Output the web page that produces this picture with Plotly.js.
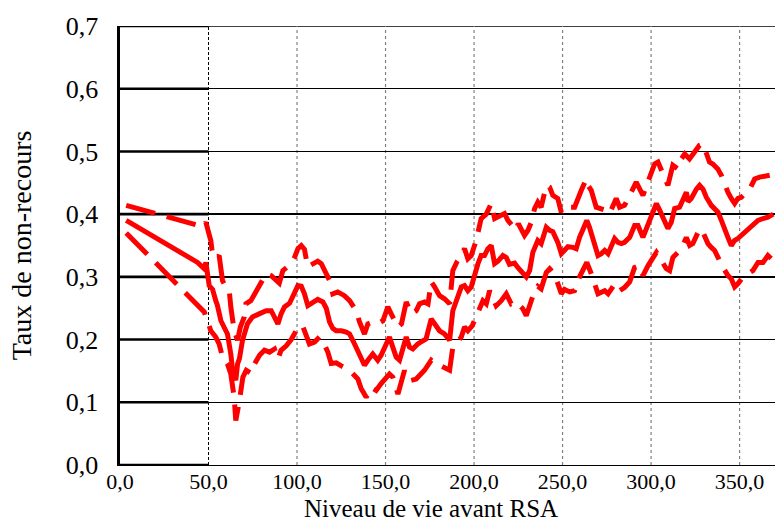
<!DOCTYPE html>
<html>
<head>
<meta charset="utf-8">
<script src="https://cdn.plot.ly/plotly-3.0.1.min.js"></script>
<style>html,body{margin:0;padding:0;background:#fff;}#chart{width:775px;height:522px;}</style>
</head>
<body>
<div id="chart"></div>
<script>
// Upper band (dashed)
const upperX = [3.5,47,48.5,51.3,52,54.1,56,57.9,59.8,61.7,62.6,64.5,66.4,68,70.2,71.1,73.9,76.7,79.6,82.6,85.4,87.3,90,92,94.8,96.7,98.6,100.5,102.4,104.2,106,109,111.7,113.7,115.5,118.4,120.2,123,126.8,129.7,133.4,135.3,138.1,140,142.8,145.6,148.5,151.3,153.2,155,157,159,161.7,164.5,167.3,169.2,172,174,175.8,177.7,180.5,183.3,186.2,188,190.5,192.8,194.6,196.5,198.4,201.2,202.2,204,206.9,209.7,211.6,214.4,217.2,219.1,222,223.8,225,228.5,230.4,232.3,234.2,236,237.9,240.8,242.7,244.5,247.3,249.3,251.1,254,256.8,260.6,263.4,264.3,266.2,269,271.9,274.7,276.6,280.3,282.2,285,288.8,291.6,295.4,297.3,302,303.9,306.7,309.5,312.3,315.2,317.1,319,321.7,324.6,327.4,329.3,331.2,333,334.9,337.7,339.7,341.5,343.4,345.3,347.2,349,351,355.7,358.5,361.3,365,367];
const upperY = [0.414,0.380,0.387,0.358,0.342,0.329,0.334,0.294,0.284,0.278,0.252,0.214,0.199,0.220,0.236,0.257,0.262,0.276,0.294,0.305,0.302,0.297,0.290,0.310,0.317,0.321,0.331,0.345,0.350,0.344,0.316,0.321,0.325,0.321,0.310,0.294,0.273,0.276,0.270,0.262,0.246,0.228,0.209,0.225,0.228,0.225,0.230,0.252,0.241,0.230,0.220,0.225,0.260,0.241,0.246,0.257,0.260,0.257,0.292,0.284,0.270,0.265,0.257,0.310,0.325,0.334,0.345,0.329,0.334,0.358,0.369,0.393,0.400,0.417,0.393,0.396,0.401,0.390,0.379,0.374,0.385,0.366,0.374,0.387,0.409,0.419,0.411,0.446,0.443,0.430,0.425,0.403,0.411,0.411,0.411,0.438,0.456,0.446,0.438,0.411,0.409,0.406,0.401,0.425,0.411,0.414,0.435,0.451,0.430,0.446,0.480,0.483,0.464,0.446,0.478,0.472,0.488,0.496,0.488,0.499,0.510,0.512,0.496,0.483,0.480,0.472,0.462,0.448,0.435,0.425,0.417,0.425,0.427,0.440,0.456,0.459,0.462,0.462];

// Central estimate (solid)
const centerX = [3.5,43.8,47.6,48.5,50.4,52.3,54.1,55,57,58.9,60.7,62.6,63.6,65.4,66.4,67.5,69.2,72,74.8,78.6,80.7,82.6,85.4,87.3,89.2,91,92.9,95.8,98.6,100.5,102.4,104.2,106.1,108.9,111.7,114.6,116.5,118.4,120.2,122.1,125,127.8,129.7,132.5,135.3,138.1,140,142.8,145.6,147.5,150.4,152.2,154.1,156,157.9,159.8,161.7,163.5,165.4,168.2,171,172.9,175.8,177.7,180.5,183.3,186.2,188,189.9,192.8,194.6,196.5,198.4,200.3,202.2,204,205.9,207.8,209.7,211.6,213.5,216.3,218.2,220,222.9,224.7,226.6,229.5,231.4,233.2,236,237.9,240.8,242.7,244.5,247.3,249.3,251.1,253,255.8,257.7,259.6,262.4,263.7,265.2,267.1,270,271.9,273.8,275.7,279.4,281.3,283.2,285,287.9,290.7,292.6,295.4,298.3,301.1,303,304.9,306.7,309.5,311.4,313.3,316.1,318,319.9,320.9,322.7,325.6,327.4,329.3,331.2,334,335.9,337.8,339.7,341.5,343.4,345.3,347.2,349,351.9,354.7,357.5,360.4,363.2,366,369];
const centerY = [0.390,0.323,0.313,0.323,0.286,0.280,0.262,0.255,0.230,0.220,0.209,0.177,0.151,0.135,0.161,0.170,0.199,0.225,0.236,0.241,0.244,0.246,0.246,0.236,0.225,0.241,0.252,0.258,0.274,0.286,0.285,0.273,0.254,0.260,0.264,0.260,0.250,0.228,0.218,0.214,0.214,0.212,0.209,0.193,0.177,0.159,0.167,0.177,0.167,0.175,0.193,0.204,0.188,0.172,0.167,0.188,0.204,0.188,0.185,0.193,0.199,0.201,0.233,0.225,0.214,0.209,0.199,0.246,0.262,0.284,0.286,0.278,0.284,0.305,0.321,0.334,0.334,0.345,0.350,0.321,0.325,0.334,0.331,0.320,0.322,0.315,0.310,0.300,0.310,0.339,0.358,0.353,0.379,0.374,0.372,0.355,0.337,0.342,0.348,0.347,0.345,0.363,0.379,0.390,0.379,0.363,0.334,0.337,0.342,0.337,0.361,0.355,0.353,0.355,0.363,0.382,0.382,0.363,0.385,0.406,0.417,0.406,0.393,0.377,0.387,0.409,0.411,0.425,0.435,0.420,0.425,0.440,0.446,0.440,0.427,0.414,0.409,0.403,0.390,0.374,0.363,0.350,0.358,0.361,0.369,0.374,0.382,0.390,0.393,0.395,0.400];

// Lower band (dashed)
const lowerX = [3.5,43.8,47.6,49.4,51.3,54.1,56,57.9,60.7,62.6,64.5,65.4,66.8,67.5,69.4,71.3,74.1,76,78.8,81.6,84.5,87.3,89.2,91,93.9,96.7,99.5,101.4,103.3,105.2,107,109.9,112.7,114.6,117.4,119.3,122.1,125,127.8,129.7,134.4,136.2,139.1,141.9,144.7,147.5,152.2,154.1,157,160.7,161.7,164.5,167.3,169.2,172,175.8,178,180.5,183.3,186.2,188,192.8,194.6,196.5,199,201.2,203.1,205,206.9,208.8,212.5,215.4,218.2,221,223.8,225.7,227.6,229.5,232.3,234.2,236,237.9,240.8,242.7,244.5,246.4,249.3,251.1,254,256.8,259.6,262.4,263.7,266.2,268.1,270,273.8,275.7,277.6,279.4,282.2,285,287.9,290.7,293.5,295.4,298.3,301.1,303,305.8,308.6,310.5,312.3,315.2,318,319.9,321.8,323.6,326.5,328.4,330.3,332.1,334,335.9,337.8,339.6,343.4,345.3,347.2,349,351.9,354.7,357.5,360.4,363.2,366,367.9];
const lowerY = [0.370,0.257,0.244,0.230,0.214,0.204,0.193,0.172,0.161,0.145,0.108,0.071,0.087,0.103,0.140,0.151,0.146,0.161,0.175,0.183,0.180,0.185,0.169,0.183,0.190,0.200,0.214,0.223,0.221,0.208,0.193,0.196,0.204,0.198,0.180,0.162,0.163,0.158,0.153,0.151,0.137,0.122,0.108,0.124,0.119,0.130,0.145,0.140,0.113,0.151,0.140,0.135,0.137,0.143,0.151,0.167,0.162,0.159,0.156,0.151,0.188,0.204,0.220,0.214,0.222,0.236,0.246,0.262,0.257,0.278,0.254,0.262,0.273,0.257,0.260,0.254,0.249,0.238,0.262,0.278,0.285,0.281,0.307,0.313,0.307,0.297,0.273,0.280,0.276,0.278,0.300,0.315,0.323,0.305,0.289,0.273,0.278,0.273,0.281,0.289,0.278,0.283,0.292,0.315,0.318,0.302,0.318,0.329,0.339,0.326,0.313,0.310,0.331,0.339,0.350,0.363,0.350,0.353,0.371,0.377,0.366,0.353,0.347,0.342,0.331,0.320,0.302,0.297,0.284,0.289,0.300,0.305,0.310,0.323,0.323,0.334,0.329];

const yTicks = [0,0.1,0.2,0.3,0.4,0.5,0.6,0.7];
const xTicks = [0,50,100,150,200,250,300,350];
const xMax = 370;

const FONT = '"Liberation Serif", "Times New Roman", serif';
const RED = '#ff0000';

const traces = [
  {x: upperX, y: upperY, type: 'scatter', mode: 'lines', name: 'haut',
   line: {color: RED, width: 5, dash: '30px,12px'}, showlegend: false},
  {x: centerX, y: centerY, type: 'scatter', mode: 'lines', name: 'estimation',
   line: {color: RED, width: 5}, showlegend: false},
  {x: lowerX, y: lowerY, type: 'scatter', mode: 'lines', name: 'bas',
   line: {color: RED, width: 5, dash: '30px,12px'}, showlegend: false}
];

const shapes = [];
// vertical grid lines
xTicks.forEach(function (v) {
  if (v === 0) return;
  shapes.push({type: 'line', xref: 'x', yref: 'y', x0: v, x1: v, y0: 0, y1: 0.7, layer: 'below',
    line: v === 50 ? {color: '#000', width: 1, dash: '3px,2px'} : {color: '#808080', width: 1.2, dash: 'dot'}});
});
// top border line
shapes.push({type: 'line', xref: 'paper', yref: 'y', x0: 0, x1: 1, y0: 0.7, y1: 0.7, layer: 'below',
  line: {color: '#000', width: 1.3}});
// thicker segments of horizontal lines left of 50
yTicks.forEach(function (v) {
  shapes.push({type: 'line', xref: 'x', yref: 'y', x0: 0, x1: 50, y0: v, y1: v, layer: 'below',
    line: {color: '#000', width: 2.6}});
});

const layout = {
  width: 775, height: 522,
  margin: {l: 120, r: 0, t: 26, b: 57, pad: 0},
  paper_bgcolor: '#fff', plot_bgcolor: '#fff',
  separators: ', ',
  font: {family: FONT, color: '#000', size: 24},
  showlegend: false,
  xaxis: {
    range: [0, xMax], tickvals: xTicks, tickformat: '.1f',
    showgrid: false, zeroline: false,
    showline: true, linecolor: '#000', linewidth: 1.3,
    ticks: '', ticklabelstandoff: -4,
    tickfont: {family: FONT, size: 22, color: '#000'}
  },
  yaxis: {
    range: [0, 0.7], tickvals: yTicks, tickformat: '.1f',
    showgrid: true, gridcolor: '#000', gridwidth: 1.3, zeroline: false,
    showline: true, linecolor: '#000', linewidth: 2.6,
    ticks: '', ticklabelstandoff: 14,
    tickfont: {family: FONT, size: 26, color: '#000'},
    title: {text: 'Taux de non-recours', font: {family: FONT, size: 28, color: '#000'}, standoff: 26}
  },
  annotations: [
    {text: 'Niveau de vie avant RSA', xref: 'paper', yref: 'paper', x: 0.475, y: -0.099,
     xanchor: 'center', yanchor: 'middle', showarrow: false,
     font: {family: FONT, size: 25, color: '#000'}}
  ],
  shapes: shapes
};

Plotly.newPlot('chart', traces, layout, {displayModeBar: false, staticPlot: true});
</script>
</body>
</html>
